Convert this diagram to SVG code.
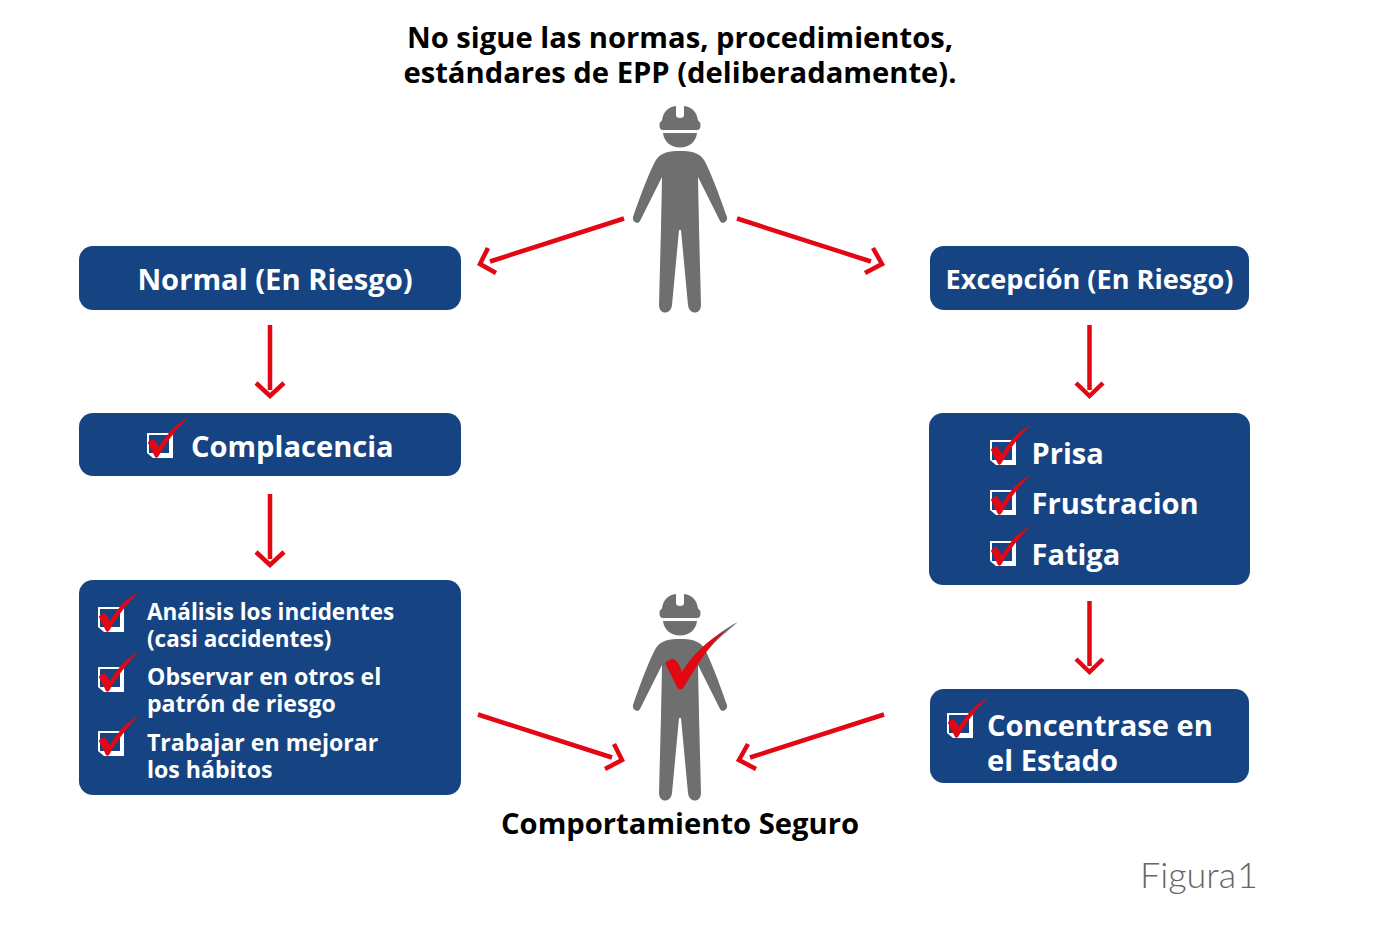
<svg xmlns="http://www.w3.org/2000/svg" width="1378" height="925" viewBox="0 0 1378 925">
<style>
text{font-family:"Open Sans","Noto Sans",sans-serif;font-weight:700}
.t{font-size:29.200px;fill:#000;text-anchor:middle}
.w{fill:#fff}
.a{fill:none;stroke:#e30613;stroke-width:4.500}
.b{fill:#164483}
</style>
<defs>
<g id="worker" fill="#6f6f6f">
<path d="M676 106V115Q676 118 680 118Q684 118 684 115V106C692 107 697 112 698 120.500Q700.500 122 700.500 125.500Q700.500 129 698 130H662Q659.500 129 659.500 125.500Q659.500 122 662 120.500C663 112 668 107 676 106Z"/>
<path d="M663 133H697C696 142 689 147.500 680 147.500C671 147.500 664 142 663 133Z"/>
<path d="M680 151C690 151 699 152 704 160C710 170 720 197 727 217C728 222 722 225 720 221L698 177L699 228L701 305C701 315 689 315 688 305L681 230H679L672 305C671 315 659 315 659 305L661 228L662 177L640 221C638 225 632 222 633 217C640 197 650 170 656 160C661 152 670 151 680 151Z"/>
</g>
<g id="check">
<path fill="#fff" d="M0 0H26V25H6L0 20Z"/>
<rect class="b" x="2" y="2" width="20" height="18"/>
<path fill="#e30613" d="M.7 9.500Q4 6.500 7 6L12 14C19 2 28 -9 41 -15C30 -5 21 7 11 24Q9 25.500 8 24Z"/>
</g>
</defs>
<g id="title"><text class="t" x="680" y="48">No sigue las normas, procedimientos,</text><text class="t" x="680" y="83">estándares de EPP (deliberadamente).</text></g>
<g id="worker-top"><use href="#worker"/></g>
<g id="worker-bottom"><use href="#worker" y="488"/><path fill="#6f6f6f" d="M697 653C710 640 722 630 738 622C726 632 716 640 708 650Z"/><path fill="#e30613" d="M665 663Q670 659 673 659Q678 660 682 672C692 655 708 640 727 629.500C714 640 703 655 684 687Q680 692 677 687Z"/></g>
<g id="normal"><rect class="b" x="79" y="246" width="382" height="64" rx="14"/><text class="w" x="275" y="290" font-size="29.200" text-anchor="middle">Normal (En Riesgo)</text></g>
<g id="excepcion"><rect class="b" x="930" y="246" width="319" height="64" rx="14"/><text class="w" x="1089.500" y="289" font-size="27.100" text-anchor="middle">Excepción (En Riesgo)</text></g>
<g id="complacencia"><rect class="b" x="79" y="413" width="382" height="63" rx="14"/><use href="#check" x="147" y="433"/><text class="w" x="191" y="457" font-size="29.100">Complacencia</text></g>
<g id="factores"><rect class="b" x="929" y="413" width="321" height="172" rx="14"/><use href="#check" x="990" y="440"/><use href="#check" x="990" y="490"/><use href="#check" x="990" y="541"/><text class="w" x="1031.500" y="464" font-size="29">Prisa</text><text class="w" x="1031.500" y="514" font-size="29.100">Frustracion</text><text class="w" x="1031.500" y="565" font-size="29">Fatiga</text></g>
<g id="acciones"><rect class="b" x="79" y="580" width="382" height="215" rx="14"/><use href="#check" x="98" y="607"/><use href="#check" x="98" y="667"/><use href="#check" x="98" y="731"/>
<text class="w" x="147" y="619.500" font-size="22.500">Análisis los incidentes</text><text class="w" x="147" y="646.500" font-size="22.500">(casi accidentes)</text><text class="w" x="147" y="685" font-size="23.100">Observar en otros el</text><text class="w" x="147" y="712" font-size="23.100">patrón de riesgo</text><text class="w" x="147" y="751" font-size="23.100">Trabajar en mejorar</text><text class="w" x="147" y="778" font-size="23.100">los hábitos</text></g>
<g id="concentrarse"><rect class="b" x="930" y="689" width="319" height="94" rx="14"/><use href="#check" x="947" y="713"/><text class="w" x="987" y="736" font-size="29.100">Concentrase en</text><text class="w" x="987" y="771" font-size="29.100">el Estado</text></g>
<g id="connectors" class="a">
<path d="M624 218.500L490 261.500M488 248L480 264L496 273"/>
<path d="M737 218.500L871 261.500M873 248L882 264L865 273"/>
<path d="M270 325V390M256 383L270 396L284 383"/>
<path d="M270 494V559M256 552L270 565L284 552"/>
<path d="M1089.500 325V390M1076 383L1089.500 396L1103 383"/>
<path d="M1089.500 601V666M1076 659L1089.500 672L1103 659"/>
<path d="M478 714.500L612 757.500M614 744L622 760L605 769"/>
<path d="M884 714.500L750 757.500M748 744L739 760L756 769"/>
</g>
<g id="caption"><text class="t" x="680" y="834">Comportamiento Seguro</text></g>
<text id="figura" x="1140" y="888" font-size="36" fill="#666" word-spacing="-9" style="font-family:Lato,'Open Sans',sans-serif;font-weight:300">Figura 1</text>
</svg>
